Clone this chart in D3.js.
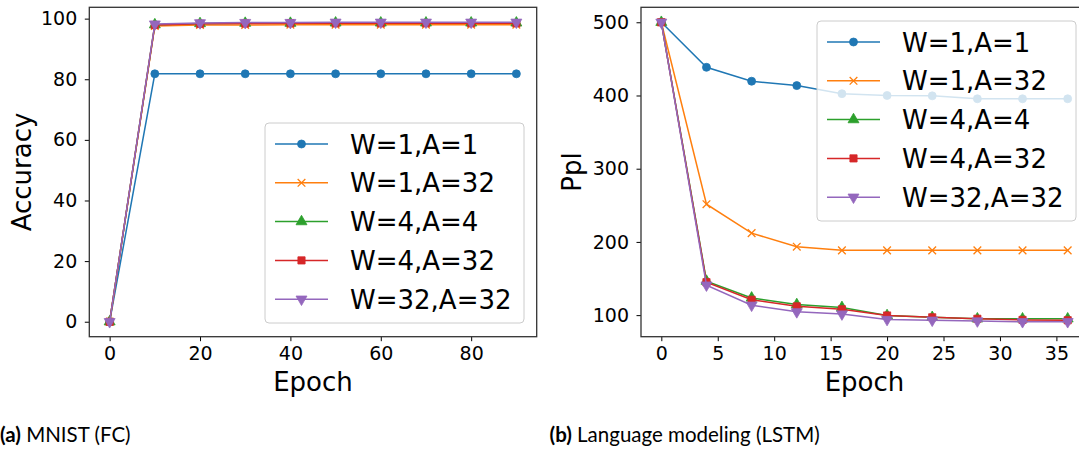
<!DOCTYPE html>
<html lang="en">
<head>
    <meta charset="UTF-8">
    <title>Quantized training curves</title>
    <style>
        html,body{
            margin:0;
            background:#fff;
            overflow:hidden;
        }
        text{ font-family: "DejaVu Sans", sans-serif; fill:#000; }
        .caption text, text.caption{ font-family: Lato, sans-serif; }
    </style>
</head>
<body>
    <svg id="svg"></svg>
    <script src="https://d3js.org/d3.v7.min.js"></script>
    <script>
        const seriesNames = ["W=1,A=1", "W=1,A=32", "W=4,A=4", "W=4,A=32", "W=32,A=32"];
        const colors = ["#1f77b4", "#ff7f0e", "#2ca02c", "#d62728", "#9467bd"];
        const markers = ["circle", "times", "triUp", "square", "triDown"];

        // (a) MNIST (FC)
        const mnistEpochs = [0, 10, 20, 30, 40, 50, 60, 70, 80, 90];
        const mnistW1A1   = [0, 81.8, 81.8, 81.8, 81.8, 81.8, 81.8, 81.8, 81.8, 81.8];
        const mnistW1A32  = [0, 97.6, 97.9, 97.9, 98.0, 98.0, 98.0, 98.0, 98.0, 98.0];
        const mnistW4A4   = [0, 98.0, 98.4, 98.5, 98.5, 98.6, 98.6, 98.6, 98.6, 98.6];
        const mnistW4A32  = [0, 97.9, 98.3, 98.4, 98.5, 98.5, 98.5, 98.5, 98.5, 98.5];
        const mnistW32A32 = [0, 98.2, 98.6, 98.7, 98.7, 98.8, 98.8, 98.8, 98.8, 98.8];
        const mnistXTicks = [0, 20, 40, 60, 80];
        const accTicks = [0, 20, 40, 60, 80, 100];

        // (b) Language modeling (LSTM)
        const lstmEpochs = [0, 4, 8, 12, 16, 20, 24, 28, 32, 36];
        const lstmW1A1   = [500, 438.5, 419.5, 413.5, 402.5, 400, 399.5, 395.5, 395.5, 395.5];
        const lstmW1A32  = [500, 251.5, 212, 193.5, 188.5, 188.5, 188.5, 188.5, 188.5, 188.5];
        const lstmW4A4   = [500, 146.5, 123.5, 114.5, 110.5, 99.5, 97, 95, 95, 95];
        const lstmW4A32  = [500, 145, 121, 112, 108, 99.5, 97, 95, 93.5, 93];
        const lstmW32A32 = [500, 141, 113.5, 104.5, 101.5, 94, 93, 92, 91, 91];
        const lstmXTicks = [0, 5, 10, 15, 20, 25, 30, 35];
        const pplTicks = [100, 200, 300, 400, 500];

        const svg = d3.select("#svg").attr("width", 1079).attr("height", 449);

        const symbolFor = {
            circle:  d3.symbol().type(d3.symbolCircle).size(50),
            times:   d3.symbol().type(d3.symbolTimes).size(40),
            triUp:   d3.symbol().type(d3.symbolTriangle).size(52),
            square:  d3.symbol().type(d3.symbolSquare).size(52),
            triDown: d3.symbol().type(d3.symbolTriangle).size(52)
        };

        function drawMarker(g, kind, color, x, y) {
            const p = g.append("path")
                .attr("d", symbolFor[kind]())
                .attr("transform", `translate(${x},${y})` + (kind === "triDown" ? " rotate(180)" : ""));
            if (kind === "times") {
                p.attr("fill", "none").attr("stroke", color).attr("stroke-width", 1.3);
            } else {
                p.attr("fill", color).attr("stroke", color).attr("stroke-width", 0.8);
            }
        }

        function padded(ext) {
            const m = (ext[1] - ext[0]) * 0.05;
            return [ext[0] - m, ext[1] + m];
        }

        function panel(box, xs, series, xTicks, yTicks, yLabel, yLabelX, legendPos) {
            const all = series.flat();
            const xScale = d3.scaleLinear().domain(padded(d3.extent(xs))).range([box.left, box.right]);
            const yScale = d3.scaleLinear().domain(padded(d3.extent(all))).range([box.bottom, box.top]);

            const g = svg.append("g");

            g.append("g")
                .attr("transform", `translate(0,${box.bottom})`)
                .call(d3.axisBottom(xScale).tickValues(xTicks).tickSize(4.5).tickPadding(5.5).tickFormat(d3.format("d")))
                .call(a => a.select(".domain").remove())
                .call(a => a.selectAll("text").style("font-size", "19px").style("font-family", "DejaVu Sans"));

            g.append("g")
                .attr("transform", `translate(${box.left},0)`)
                .call(d3.axisLeft(yScale).tickValues(yTicks).tickSize(4.5).tickPadding(7.5).tickFormat(d3.format("d")))
                .call(a => a.select(".domain").remove())
                .call(a => a.selectAll("text").style("font-size", "19px").style("font-family", "DejaVu Sans"));

            const line = d3.line().x((d, i) => xScale(xs[i])).y(d => yScale(d));

            series.forEach((vals, k) => {
                g.append("path")
                    .datum(vals)
                    .attr("d", line)
                    .attr("fill", "none")
                    .attr("stroke", colors[k])
                    .attr("stroke-width", 1.5);
                vals.forEach((v, i) => drawMarker(g, markers[k], colors[k], xScale(xs[i]), yScale(v)));
            });

            g.append("rect")
                .attr("x", box.left).attr("y", box.top)
                .attr("width", box.right - box.left).attr("height", box.bottom - box.top)
                .attr("fill", "none").attr("stroke", "#333").attr("stroke-width", 1.3);

            g.append("text")
                .text("Epoch")
                .attr("x", (box.left + box.right) / 2)
                .attr("y", 391)
                .attr("text-anchor", "middle")
                .style("font-size", "26px");

            g.append("text")
                .text(yLabel)
                .attr("transform", `translate(${yLabelX},${(box.top + box.bottom) / 2}) rotate(-90)`)
                .attr("text-anchor", "middle")
                .style("font-size", "26px");

            // legend
            const lg = g.append("g").attr("transform", `translate(${legendPos[0]},${legendPos[1]})`);
            lg.append("rect")
                .attr("x", 0).attr("y", 0).attr("width", 259).attr("height", 200).attr("rx", 4)
                .attr("fill", "#fff").attr("fill-opacity", 0.8)
                .attr("stroke", "#cccccc").attr("stroke-width", 1);
            seriesNames.forEach((name, k) => {
                const y = 21 + k * 38.8;
                lg.append("line")
                    .attr("x1", 10).attr("x2", 63).attr("y1", y).attr("y2", y)
                    .attr("stroke", colors[k]).attr("stroke-width", 1.5);
                drawMarker(lg, markers[k], colors[k], 36.5, y);
                lg.append("text")
                    .text(name)
                    .attr("x", 85).attr("y", y + 9.5)
                    .style("font-size", "26px");
            });
        }

        panel({ left: 89.3, right: 536.7, top: 7.3, bottom: 336.7 },
            mnistEpochs, [mnistW1A1, mnistW1A32, mnistW4A4, mnistW4A32, mnistW32A32],
            mnistXTicks, accTicks, "Accuracy", 30.5, [265, 123]);

        panel({ left: 641, right: 1088, top: 7.3, bottom: 336.7 },
            lstmEpochs, [lstmW1A1, lstmW1A32, lstmW4A4, lstmW4A32, lstmW32A32],
            lstmXTicks, pplTicks, "Ppl", 581, [817, 21]);

        // sub-figure captions
        const cap = svg.append("g").attr("class", "caption");
        const capA = cap.append("text").attr("x", 0).attr("y", 442).style("font-size", "20.5px");
        capA.append("tspan").text("(a)").style("font-weight", "bold");
        capA.append("tspan").text(" MNIST (FC)");
        const capB = cap.append("text").attr("x", 549.5).attr("y", 442).style("font-size", "20.5px");
        capB.append("tspan").text("(b)").style("font-weight", "bold");
        capB.append("tspan").text(" Language modeling (LSTM)");
    </script>
</body>
</html>
